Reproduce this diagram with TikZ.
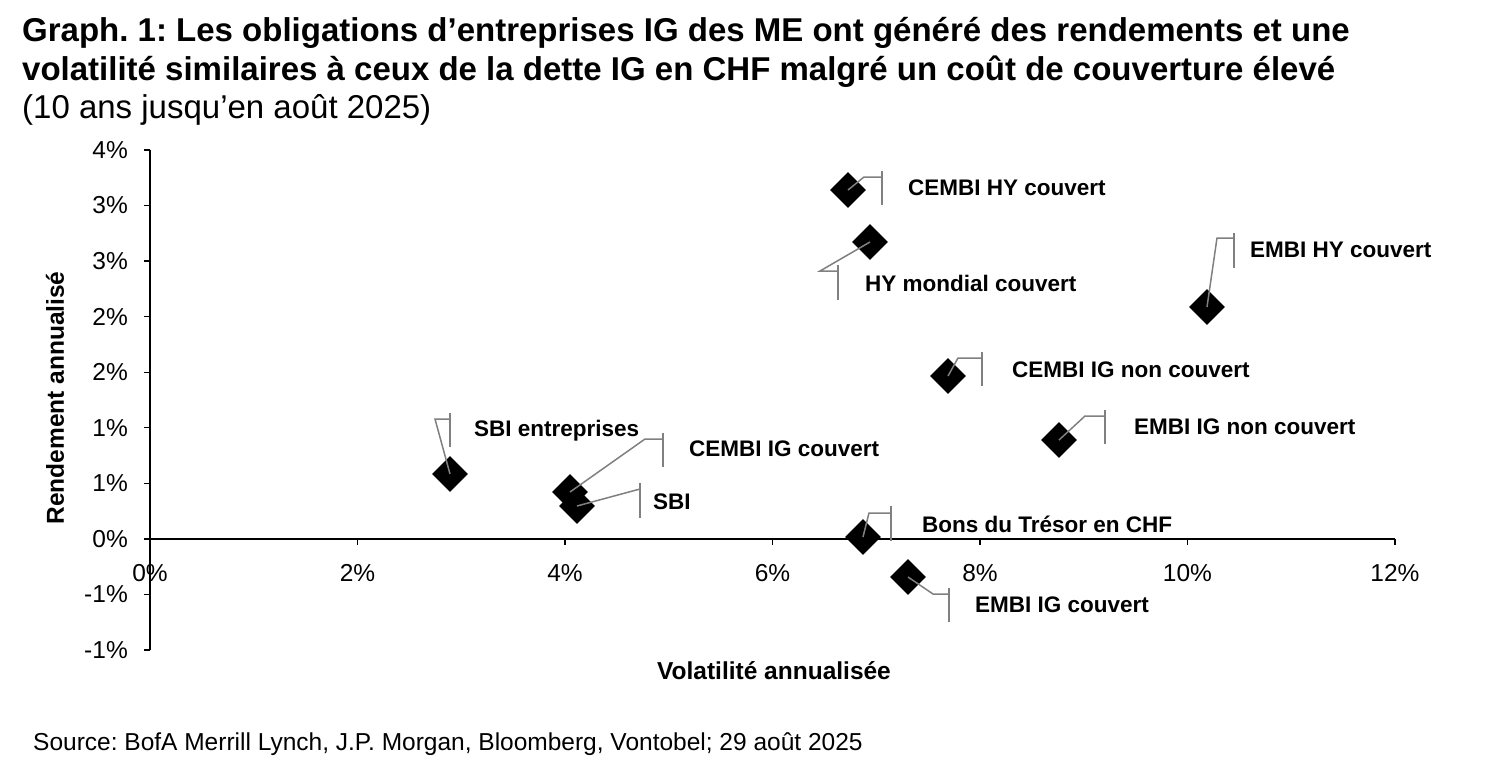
\documentclass[tikz,border=0pt]{standalone}
\usepackage{fontspec}
\setmainfont{Liberation Sans}
\usetikzlibrary{shapes.geometric}
\begin{document}
\frenchspacing
\begin{tikzpicture}[x=1pt,y=-1pt,
  pt/.style={diamond,fill=black,inner sep=0pt,minimum size=36pt},
  lead/.style={draw=black!50,line width=1.5pt},
  lab/.style={anchor=west,inner sep=0pt,font=\fontsize{22.5}{26}\selectfont\bfseries},
  tick/.style={font=\fontsize{24.5}{28}\selectfont,inner sep=0pt}]
\useasboundingbox[fill=white] (0,0) rectangle (1500,761);
\node[anchor=west,inner sep=0pt,font=\fontsize{33}{38}\selectfont\bfseries] (t1) at (22,33) {Graph. 1: Les obligations d’entreprises IG des ME ont généré des rendements et une};
\node[anchor=west,inner sep=0pt,font=\fontsize{33}{38}\selectfont\bfseries] (t2) at (22,72) {volatilité similaires à ceux de la dette IG en CHF malgré un coût de couverture élevé};
\node[anchor=west,inner sep=0pt,font=\fontsize{33}{38}\selectfont] (t3) at (22,110) {(10 ans jusqu’en août 2025)};
% axes
\coordinate (ytop) at (150,150); \coordinate (ybot) at (150,650);
\coordinate (x0) at (150,539); \coordinate (x12) at (1395,539);
\draw[line width=1.3pt] (ytop) -- (ybot);
\draw[line width=1.3pt] (x0) -- (x12);
\foreach \v [count=\i from 0] in {4\%,3\%,3\%,2\%,2\%,1\%,1\%,0\%,-1\%,-1\%}{
  \pgfmathsetmacro\yy{150+\i*55.55}
  \draw[line width=1.3pt] (144,\yy) -- (150,\yy);
  \node[tick,anchor=east] (yl\i) at (128,\yy) {\v};
}
\foreach \v [count=\i from 0] in {0\%,2\%,4\%,6\%,8\%,10\%,12\%}{
  \pgfmathsetmacro\xx{150+\i*207.5}
  \draw[line width=1.3pt] (\xx,539) -- (\xx,545);
  \node[tick] (xl\i) at (\xx,573) {\v};
}
\node[rotate=90,font=\fontsize{24.5}{28}\selectfont\bfseries,inner sep=0pt] (ylab) at (55,398) {Rendement annualisé};
\node[font=\fontsize{24.5}{28}\selectfont\bfseries,inner sep=0pt] (xlab) at (774,671) {Volatilité annualisée};
\node[anchor=west,inner sep=0pt,font=\fontsize{24.5}{28}\selectfont] (src) at (33,744) {Source: BofA Merrill Lynch, J.P. Morgan, Bloomberg, Vontobel; 29 août 2025};
% points
\node[pt] (sbie) at (450,474) {};
\node[pt] (cigc) at (570,492) {};
\node[pt] (sbi) at (577,506) {};
\node[pt] (chy) at (848,190) {};
\node[pt] (hym) at (870,242) {};
\node[pt] (ehy) at (1207,307) {};
\node[pt] (cign) at (948,376) {};
\node[pt] (eign) at (1059,440) {};
\node[pt] (bons) at (863,537) {};
\node[pt] (eigc) at (908,577) {};
% leaders
\draw[lead] (sbie.center) -- (435,419) -- (450,419); \draw[lead] (450,413) -- (450,447);
\draw[lead] (cigc.center) -- (645,439) -- (663,439); \draw[lead] (663,433) -- (663,467);
\draw[lead] (sbi.center) -- (640,489); \draw[lead] (640,483) -- (640,518);
\draw[lead] (chy.center) -- (864,177) -- (882,177); \draw[lead] (882,171) -- (882,205);
\draw[lead] (hym.center) -- (820,271) -- (838,271); \draw[lead] (838,265) -- (838,300);
\draw[lead] (ehy.center) -- (1217,238) -- (1234,238); \draw[lead] (1234,233) -- (1234,268);
\draw[lead] (cign.center) -- (958,358) -- (982,358); \draw[lead] (982,352) -- (982,386);
\draw[lead] (eign.center) -- (1085,416) -- (1105,416); \draw[lead] (1105,410) -- (1105,444);
\draw[lead] (bons.center) -- (869,513) -- (891,513); \draw[lead] (891,506) -- (891,541);
\draw[lead] (eigc.center) -- (933,594) -- (949,594); \draw[lead] (949,588) -- (949,622);
% labels
\node[lab] (lchy) at (908,188) {CEMBI HY couvert};
\node[lab] (lhym) at (865,283) {HY mondial couvert};
\node[lab] (lehy) at (1250,250) {EMBI HY couvert};
\node[lab] (lcign) at (1012,370) {CEMBI IG non couvert};
\node[lab] (leign) at (1134,427) {EMBI IG non couvert};
\node[lab] (lsbie) at (474,431) {SBI entreprises};
\node[lab] (lcigc) at (689,449) {CEMBI IG couvert};
\node[lab] (lsbi) at (653,502) {SBI};
\node[lab] (lbons) at (922,524) {Bons du Trésor en CHF};
\node[lab] (leigc) at (975,605) {EMBI IG couvert};
\end{tikzpicture}
\end{document}
